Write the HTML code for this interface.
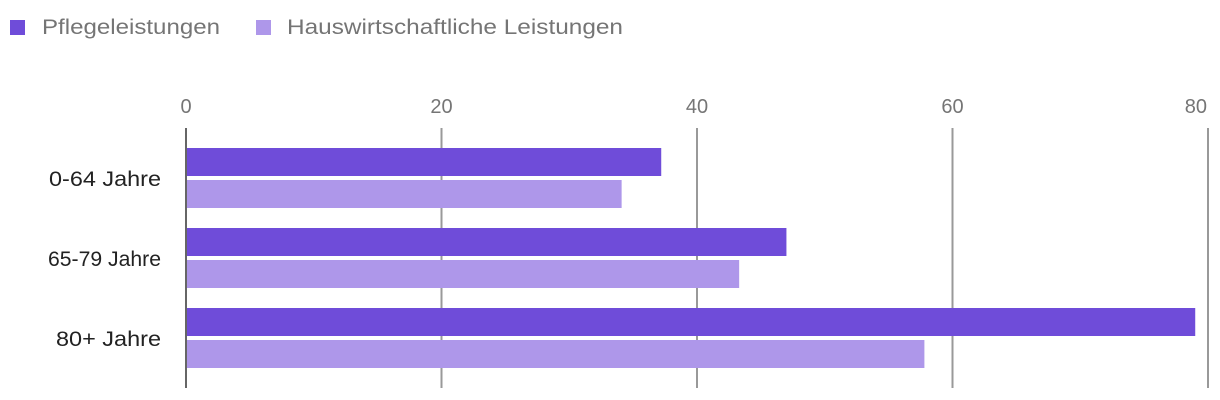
<!DOCTYPE html>
<html><head><meta charset="utf-8"><style>body{margin:0;background:#fff}svg{display:block}</style></head>
<body>
<svg width="1220" height="400" xmlns="http://www.w3.org/2000/svg" font-family="Liberation Sans, sans-serif">
<g>
<rect x="10" y="20" width="15" height="15" fill="#6f4cd9"/>
<text x="42" y="34" font-size="21" fill="#757575" textLength="178" lengthAdjust="spacingAndGlyphs">Pflegeleistungen</text>
<rect x="256" y="20" width="15" height="15" fill="#ae97ea"/>
<text x="287" y="34" font-size="21" fill="#757575" textLength="336" lengthAdjust="spacingAndGlyphs">Hauswirtschaftliche Leistungen</text>
</g>
<g id="grid"></g><g id="bars"></g><g id="labels"></g>
</svg>
<script>
const categories = ["0-64 Jahre","65-79 Jahre","80+ Jahre"];
const pflege = [37.2, 47, 79];
const haus = [34.1, 43.3, 57.8];
const ticks = [0,20,40,60,80];
const NS="http://www.w3.org/2000/svg";
const x0=186, x1=1208, xmax=80;
const xs=v=>x0+(x1-x0)*v/xmax;
const grid=document.getElementById('grid'), bars=document.getElementById('bars'), labels=document.getElementById('labels');
function mk(tag,attrs,parent){const e=document.createElementNS(NS,tag);for(const k in attrs)e.setAttribute(k,attrs[k]);parent.appendChild(e);return e;}
ticks.forEach((t,i)=>{
  const l=mk('line',{x1:xs(t),x2:xs(t),y1:128,y2:388,stroke:i==0?'#666':'#999','stroke-width':2},grid);
  
  
  const tx=mk('text',{x:i==ticks.length-1?xs(t)-1:xs(t),y:113,'font-size':20,fill:'#757575','text-anchor':i==ticks.length-1?'end':'middle'},grid);
  tx.textContent=t;
  
  
});
const lens=[112,113,105];
categories.forEach((c,i)=>{
  const top=148+i*80;
  const b1=mk('rect',{x:x0+1,y:top,width:xs(pflege[i])-x0-1,height:28,fill:'#6f4cd9'},bars);
  
  
  const b2=mk('rect',{x:x0+1,y:top+32,width:xs(haus[i])-x0-1,height:28,fill:'#ae97ea'},bars);
  
  
  const t=mk('text',{x:161,y:top+38,'font-size':21,fill:'#222','text-anchor':'end',textLength:lens[i],lengthAdjust:'spacingAndGlyphs'},labels);
  t.textContent=c;
  
  
});
</script>
</body></html>
